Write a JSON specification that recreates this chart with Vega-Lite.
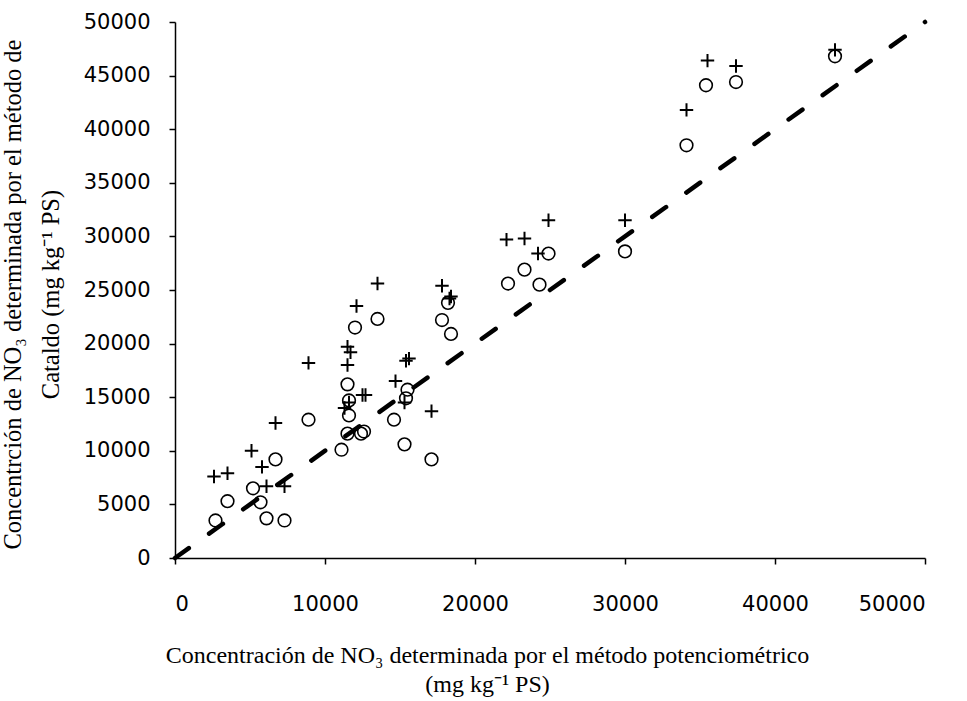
{
  "$schema": "https://vega.github.io/schema/vega-lite/v6.json",
  "autosize": "none",
  "width": 750,
  "height": 536,
  "padding": {"left": 175, "top": 22, "right": 42, "bottom": 143},
  "background": "white",
  "config": {"view": {"stroke": null}},
  "datasets": {
    "circulos": [
      {"potenciometrico": 2700, "cataldo": 3500},
      {"potenciometrico": 3500, "cataldo": 5300},
      {"potenciometrico": 5200, "cataldo": 6500},
      {"potenciometrico": 5700, "cataldo": 5200},
      {"potenciometrico": 6100, "cataldo": 3700},
      {"potenciometrico": 7300, "cataldo": 3500},
      {"potenciometrico": 6700, "cataldo": 9200},
      {"potenciometrico": 8900, "cataldo": 12900},
      {"potenciometrico": 11100, "cataldo": 10100},
      {"potenciometrico": 11500, "cataldo": 11600},
      {"potenciometrico": 11500, "cataldo": 16200},
      {"potenciometrico": 11600, "cataldo": 13300},
      {"potenciometrico": 11600, "cataldo": 14700},
      {"potenciometrico": 12000, "cataldo": 21500},
      {"potenciometrico": 12400, "cataldo": 11600},
      {"potenciometrico": 12600, "cataldo": 11800},
      {"potenciometrico": 13500, "cataldo": 22300},
      {"potenciometrico": 14600, "cataldo": 12900},
      {"potenciometrico": 15300, "cataldo": 10600},
      {"potenciometrico": 15400, "cataldo": 14900},
      {"potenciometrico": 15500, "cataldo": 15700},
      {"potenciometrico": 17100, "cataldo": 9200},
      {"potenciometrico": 17800, "cataldo": 22200},
      {"potenciometrico": 18200, "cataldo": 23800},
      {"potenciometrico": 18400, "cataldo": 20900},
      {"potenciometrico": 22200, "cataldo": 25600},
      {"potenciometrico": 23300, "cataldo": 26900},
      {"potenciometrico": 24300, "cataldo": 25500},
      {"potenciometrico": 24900, "cataldo": 28400},
      {"potenciometrico": 30000, "cataldo": 28600},
      {"potenciometrico": 34100, "cataldo": 38500},
      {"potenciometrico": 35400, "cataldo": 44100},
      {"potenciometrico": 37400, "cataldo": 44400},
      {"potenciometrico": 44000, "cataldo": 46800}
    ],
    "cruces": [
      {"potenciometrico": 2600, "cataldo": 7600},
      {"potenciometrico": 3500, "cataldo": 7900},
      {"potenciometrico": 5100, "cataldo": 10000},
      {"potenciometrico": 5800, "cataldo": 8500},
      {"potenciometrico": 6100, "cataldo": 6700},
      {"potenciometrico": 7300, "cataldo": 6700},
      {"potenciometrico": 6700, "cataldo": 12600},
      {"potenciometrico": 8900, "cataldo": 18200},
      {"potenciometrico": 11300, "cataldo": 14000},
      {"potenciometrico": 11600, "cataldo": 14500},
      {"potenciometrico": 11500, "cataldo": 18000},
      {"potenciometrico": 11500, "cataldo": 19700},
      {"potenciometrico": 11700, "cataldo": 19200},
      {"potenciometrico": 12100, "cataldo": 23500},
      {"potenciometrico": 12500, "cataldo": 15200},
      {"potenciometrico": 12700, "cataldo": 15200},
      {"potenciometrico": 13500, "cataldo": 25600},
      {"potenciometrico": 14700, "cataldo": 16500},
      {"potenciometrico": 15400, "cataldo": 18400},
      {"potenciometrico": 15600, "cataldo": 18600},
      {"potenciometrico": 15300, "cataldo": 14500},
      {"potenciometrico": 17100, "cataldo": 13700},
      {"potenciometrico": 17800, "cataldo": 25400},
      {"potenciometrico": 18300, "cataldo": 24200},
      {"potenciometrico": 18400, "cataldo": 24400},
      {"potenciometrico": 22100, "cataldo": 29700},
      {"potenciometrico": 23300, "cataldo": 29800},
      {"potenciometrico": 24200, "cataldo": 28400},
      {"potenciometrico": 24900, "cataldo": 31500},
      {"potenciometrico": 30000, "cataldo": 31500},
      {"potenciometrico": 34100, "cataldo": 41800},
      {"potenciometrico": 35500, "cataldo": 46400},
      {"potenciometrico": 37400, "cataldo": 45900},
      {"potenciometrico": 44000, "cataldo": 47400}
    ],
    "linea": [
      {"potenciometrico": 0, "cataldo": 0},
      {"potenciometrico": 50000, "cataldo": 50000}
    ]
  },
  "encoding": {
    "x": {
      "field": "potenciometrico",
      "type": "quantitative",
      "scale": {"domain": [0, 50000], "nice": false, "zero": false},
      "axis": {
        "values": [0, 10000, 20000, 30000, 40000, 50000],
        "format": "d",
        "grid": false,
        "domainColor": "black",
        "domainWidth": 1.5,
        "tickColor": "black",
        "tickWidth": 1.5,
        "tickSize": 6,
        "labelFont": "DejaVu Sans",
        "labelFontSize": 21,
        "labelColor": "black",
        "labelPadding": 29,
        "title": ["Concentración de NO₃ determinada por el método potenciométrico", "(mg kg⁻¹ PS)"],
        "titleFont": "Liberation Serif",
        "titleFontSize": 24,
        "titleFontWeight": "normal",
        "titleColor": "black",
        "titleLineHeight": 29,
        "titleX": 312,
        "titleY": 104,
        "titleAlign": "center",
        "titleBaseline": "alphabetic"
      }
    },
    "y": {
      "field": "cataldo",
      "type": "quantitative",
      "scale": {"domain": [0, 50000], "nice": false, "zero": false},
      "axis": {
        "values": [0, 5000, 10000, 15000, 20000, 25000, 30000, 35000, 40000, 45000, 50000],
        "format": "d",
        "grid": false,
        "domainColor": "black",
        "domainWidth": 1.5,
        "tickColor": "black",
        "tickWidth": 1.5,
        "tickSize": 6,
        "labelFont": "DejaVu Sans",
        "labelFontSize": 21,
        "labelColor": "black",
        "labelPadding": 19,
        "title": ["Concentrción de NO₃ determinada por el método de", "Cataldo  (mg kg⁻¹ PS)"],
        "titleFont": "Liberation Serif",
        "titleFontSize": 24.5,
        "titleFontWeight": "normal",
        "titleColor": "black",
        "titleLineHeight": 38,
        "titleAngle": -90,
        "titleX": -155,
        "titleY": 272,
        "titleAlign": "center",
        "titleBaseline": "alphabetic"
      }
    }
  },
  "layer": [
    {
      "data": {"name": "linea"},
      "mark": {"type": "line", "color": "black", "strokeWidth": 4.5, "strokeDash": [17, 24.9], "strokeCap": "round"}
    },
    {
      "data": {"name": "circulos"},
      "mark": {"type": "point", "shape": "circle", "filled": false, "stroke": "black", "strokeWidth": 1.6, "size": 160, "opacity": 1}
    },
    {
      "data": {"name": "cruces"},
      "mark": {"type": "point", "shape": "M-1,0L1,0M0,-1L0,1", "filled": false, "stroke": "black", "strokeWidth": 2, "size": 180, "opacity": 1}
    }
  ]
}
